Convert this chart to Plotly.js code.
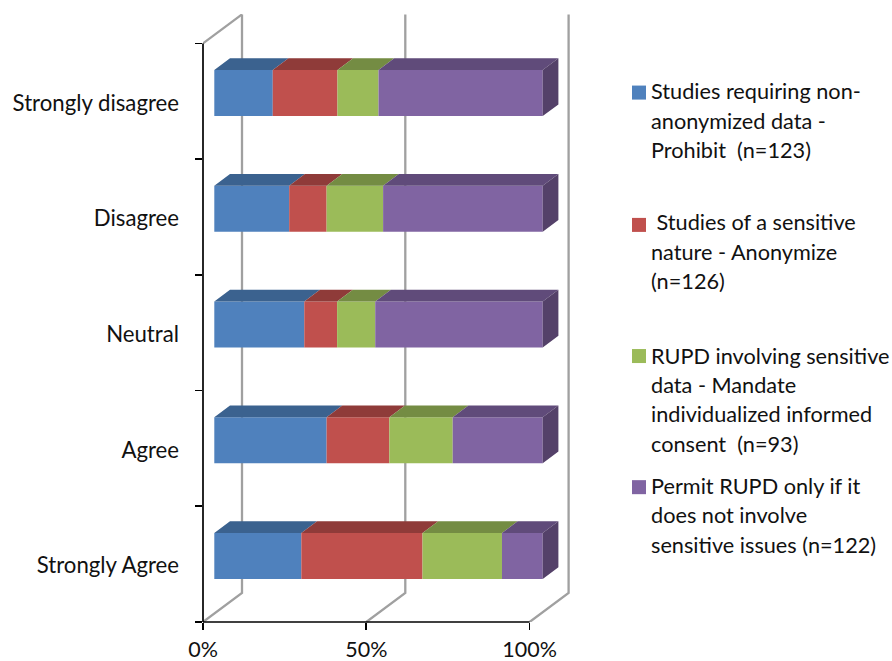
<!DOCTYPE html>
<html><head><meta charset="utf-8">
<script src="https://cdn.plot.ly/plotly-3.0.1.min.js"></script>
<style>html,body{margin:0;padding:0;background:#fff}</style></head>
<body><div id="chart" style="width:892px;height:661px"></div>
<script>
var categories = ["Strongly Agree","Agree","Neutral","Disagree","Strongly disagree"];
var prohibit  = [26.5,34.2,27.4,22.8,17.8];
var anonymize = [36.9,19.1,10.0,11.4,19.7];
var mandate   = [24.2,19.3,11.6,17.2,12.5];
var permit    = [12.4,27.4,51.0,48.6,50.0];
var seriesNames = [
 ["Studies requiring non-","anonymized data -","Prohibit  (n=123)"],
 ["\u00a0Studies of a sensitive","nature - Anonymize","(n=126)"],
 ["RUPD involving sensitive","data - Mandate","individualized informed","consent  (n=93)"],
 ["Permit RUPD only if it","does not involve","sensitive issues (n=122)"]
];
var xTicks = [0,50,100];
var xTickText = ["0%","50%","100%"];

var series = [prohibit,anonymize,mandate,permit];
var front = ["#4f81bd","#c0504d","#9bbb59","#8064a2"];
var topc  = ["#3b628f","#8f3b39","#748c43","#604b7a"];
var sidec = "#544169";
var fontFam = "Lato, Carlito, sans-serif";

// plot frame in pixels
var L=203,T=14.3,R=570,B=621.7,W=892,H=661;
var pxX=(529.6-203)/100, pxY=(621.7-43.7)/5;
var xMax=(R-L)/pxX, yMin=-0.5, yMax=yMin+(B-T)/pxY;
// pseudo-3D offsets in axis units; bars sit slightly nearer, so their scale is slightly larger
var barOffX=11.3/pxX, barOffY=8.2/pxY, depthX=15.7/pxX, depthY=11.7/pxY;
var wallX=39/pxX, wallY=29/pxY, barH=46/pxY, barScale=328.4/326.6;

var traces=[];
var cum=categories.map(function(){return barOffX;});
series.forEach(function(vals,s){
  var base=cum.slice();
  var widths=vals.map(function(v){return v*barScale;});
  traces.push({type:"bar",orientation:"h",name:seriesNames[s].join(" "),x:widths,base:base,
    y:categories.map(function(c,i){return i+barOffY;}),width:barH,
    marker:{color:front[s],line:{width:0}},hoverinfo:"skip"});
  var px=[],py=[];
  widths.forEach(function(v,i){
    var x0=base[i],x1=base[i]+v,yt=i+barOffY+barH/2;
    px.push(x0,x1,x1+depthX,x0+depthX,x0,null);
    py.push(yt,yt,yt+depthY,yt+depthY,yt,null);
    cum[i]=x1;
  });
  traces.push({type:"scatter",mode:"lines",x:px,y:py,fill:"toself",fillcolor:topc[s],
    line:{width:0,color:topc[s]},hoverinfo:"skip"});
});
// right side faces of the stacks
var sx=[],sy=[];
categories.forEach(function(c,i){
  var x1=cum[i],yb=i+barOffY-barH/2,yt=i+barOffY+barH/2;
  sx.push(x1,x1+depthX,x1+depthX,x1,x1,null);
  sy.push(yb,yb+depthY,yt+depthY,yt,yb,null);
});
traces.push({type:"scatter",mode:"lines",x:sx,y:sy,fill:"toself",fillcolor:sidec,
  line:{width:0,color:sidec},hoverinfo:"skip"});
// helper trace so the tick axis exists
traces.push({type:"scatter",mode:"lines",x:[0],y:[0],yaxis:"y2",line:{width:0},hoverinfo:"skip"});

var shapes=[];
// walls
xTicks.forEach(function(t){
  var d="M "+t+" "+yMin+" L "+(t+wallX)+" "+(yMin+wallY)+" L "+(t+wallX)+" "+(4.5+wallY);
  shapes.push({type:"path",xref:"x",yref:"y",layer:"below",path:d,line:{color:"#a0a0a0",width:2.3}});
});
shapes.push({type:"line",xref:"x",yref:"y",layer:"below",x0:0,y0:4.5,x1:wallX,y1:4.5+wallY,line:{color:"#a0a0a0",width:2.3}});

function pax(p){return (p-L)/(R-L);}
function pay(p){return (B-p)/(B-T);}
// axis lines, stopping at the front plane
shapes.push({type:"line",xref:"paper",yref:"paper",x0:0,x1:0,y0:0,y1:pay(43.7),line:{color:"#000",width:1.7}});
shapes.push({type:"line",xref:"paper",yref:"paper",x0:0,x1:pax(529.6),y0:0,y1:0,line:{color:"#000",width:1.7}});

var swatchTop=[85.8,218,349,480];
var firstLine=[91.5,222.5,355.5,485.5];
var linePitch=29.4;
var annotations=[];
seriesNames.forEach(function(lines,s){
  shapes.push({type:"rect",xref:"paper",yref:"paper",x0:pax(632),x1:pax(646),
    y0:pay(swatchTop[s]),y1:pay(swatchTop[s]+14),fillcolor:front[s],line:{width:0}});
  lines.forEach(function(t,k){
    annotations.push({xref:"paper",yref:"paper",x:pax(649),y:pay(firstLine[s]+k*linePitch),xanchor:"left",yanchor:"middle",
      align:"left",showarrow:false,text:t,font:{family:fontFam,size:21.7,color:"#111"}});
  });
});

var layout={
  width:W,height:H,margin:{l:L,t:T,r:W-R,b:H-B,pad:0},
  paper_bgcolor:"#fff",plot_bgcolor:"#fff",showlegend:false,barmode:"overlay",
  xaxis:{range:[0,xMax],tickmode:"array",tickvals:xTicks,ticktext:xTickText,ticks:"outside",ticklen:7,tickwidth:1.7,ticklabelstandoff:1,
    tickcolor:"#000",showgrid:false,zeroline:false,showline:false,tickfont:{family:fontFam,size:21.5,color:"#111"}},
  yaxis:{range:[yMin,yMax],tickmode:"array",tickvals:categories.map(function(c,i){return i-0.013;}),ticktext:categories,ticks:"",ticklabelstandoff:23,
    showgrid:false,zeroline:false,showline:false,tickfont:{family:fontFam,size:22.2,color:"#111"}},
  yaxis2:{overlaying:"y",range:[yMin,yMax],anchor:"x",side:"left",tickmode:"array",tickvals:[-0.5,0.5,1.5,2.5,3.5,4.5],
    ticks:"outside",ticklen:7,tickwidth:1.7,tickcolor:"#000",showticklabels:false,showgrid:false,zeroline:false,showline:false},
  shapes:shapes,annotations:annotations
};
Plotly.newPlot("chart",traces,layout,{displayModeBar:false,staticPlot:true});
</script></body></html>
